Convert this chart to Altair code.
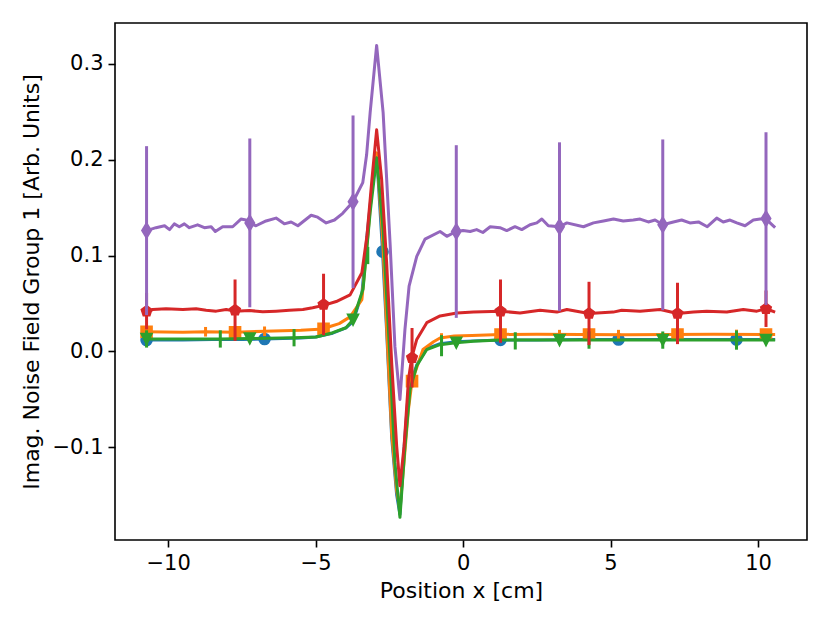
import altair as alt
import pandas as pd

# ---------------- data ----------------
blue_x = [-10.73, -9.5, -8.5, -7.5, -6.73, -5.5, -5.0, -4.42, -3.97, -3.73, -3.43, -3.26, -3.09, -2.93,
          -2.73, -2.59, -2.42, -2.25, -2.14, -2.0, -1.85, -1.57, -1.23, -0.78, -0.24, 0.35, 1.27, 2.5,
          4.0, 5.27, 6.5, 8.0, 9.27, 10.58]
blue_y = [0.012, 0.012, 0.0125, 0.0125, 0.013, 0.014, 0.015, 0.019, 0.0245, 0.031, 0.06, 0.12, 0.17, 0.205,
          0.104, 0.02, -0.09, -0.15, -0.17, -0.10, -0.040, -0.014, 0.003, 0.008, 0.010, 0.011, 0.012, 0.012,
          0.0125, 0.0125, 0.0125, 0.0125, 0.0125, 0.0125]

orange_x = [-10.73, -9.5, -8.73, -7.73, -6.73, -5.5, -4.73, -4.51, -4.2, -3.83, -3.43, -3.26, -3.09, -2.93,
            -2.73, -2.59, -2.42, -2.25, -2.14, -2.0, -1.85, -1.73, -1.36, -1.0, -0.78, -0.3, 0.3, 1.27, 2.5,
            4.0, 5.5, 7.0, 8.5, 10.27, 10.58]
orange_y = [0.0205, 0.020, 0.0205, 0.020, 0.021, 0.022, 0.0235, 0.026, 0.029, 0.036, 0.054, 0.11, 0.17, 0.207,
            0.12, 0.025, -0.085, -0.145, -0.165, -0.115, -0.06, -0.031, 0.002, 0.010, 0.014, 0.016, 0.0165,
            0.0177, 0.018, 0.0177, 0.0175, 0.0177, 0.018, 0.0177, 0.0177]

green_x = [-10.73, -9.5, -8.23, -7.23, -5.73, -4.98, -4.42, -3.97, -3.73, -3.39, -3.15, -2.93, -2.71, -2.47,
           -2.31, -2.14, -1.97, -1.80, -1.57, -1.23, -0.78, -0.24, 0.35, 1.25, 2.5, 4.0, 5.5, 7.0, 8.5, 10.27,
           10.58]
green_y = [0.013, 0.013, 0.013, 0.0135, 0.0143, 0.015, 0.0195, 0.0247, 0.033, 0.065, 0.145, 0.202, 0.127,
           -0.012, -0.116, -0.173, -0.099, -0.040, -0.015, 0.002, 0.007, 0.009, 0.0107, 0.0118, 0.0118, 0.0118,
           0.0118, 0.0118, 0.0118, 0.0118, 0.0118]

red_x = [-10.73, -10.52, -10.07, -9.5, -9.05, -8.71, -8.37, -8.03, -7.73, -7.24, -6.79, -6.34, -5.89, -5.43,
         -5.1, -4.73, -4.3, -3.83, -3.43, -3.26, -3.09, -2.93, -2.76, -2.59, -2.42, -2.25, -2.14, -2.0, -1.85,
         -1.74, -1.57, -1.23, -0.78, -0.21, 0.35, 1.27, 1.93, 2.61, 3.18, 3.52, 4.27, 5.09, 5.38, 6.0, 6.68,
         7.27, 7.81, 8.26, 8.94, 9.5, 9.96, 10.27, 10.58]
red_y = [0.041, 0.0437, 0.0445, 0.0437, 0.0445, 0.043, 0.042, 0.0437, 0.042, 0.0427, 0.0413, 0.042, 0.043,
         0.0437, 0.0455, 0.048, 0.052, 0.059, 0.082, 0.12, 0.179, 0.231, 0.179, 0.092, -0.012, -0.099, -0.140,
         -0.099, -0.029, -0.0065, 0.0125, 0.030, 0.037, 0.040, 0.041, 0.042, 0.040, 0.043, 0.041, 0.0437,
         0.0396, 0.041, 0.043, 0.042, 0.0437, 0.0396, 0.041, 0.042, 0.041, 0.0437, 0.042, 0.0445, 0.041]

purple_x = [-10.73, -10.41, -10.12, -9.95, -9.79, -9.62, -9.45, -9.28, -9.0, -8.77,
            -8.54, -8.4, -8.15, -7.81, -7.53, -7.36, -7.23, -7.02, -6.68, -6.34,
            -6.06, -5.83, -5.6, -5.15, -4.93, -4.64, -4.36, -4.08, -3.73, -3.4,
            -3.27, -3.15, -2.93, -2.71, -2.47, -2.31, -2.14, -1.97, -1.83, -1.57,
            -1.29, -0.78, -0.55, -0.24, 0.0, 0.24, 0.46, 0.67, 0.92, 1.25,
            1.48, 1.76, 1.99, 2.27, 2.5, 2.67, 2.89, 3.27, 3.52, 4.08,
            4.42, 4.76, 5.1, 5.43, 5.77, 6.0, 6.28, 6.51, 6.77, 7.13,
            7.41, 7.69, 7.98, 8.28, 8.6, 8.82, 9.05, 9.28, 9.56, 9.84,
            10.07, 10.27, 10.58]
purple_y = [0.126, 0.129, 0.131, 0.127, 0.133, 0.130, 0.133, 0.129, 0.132, 0.129,
            0.130, 0.125, 0.130, 0.130, 0.138, 0.137, 0.134, 0.131, 0.136, 0.139,
            0.133, 0.135, 0.131, 0.142, 0.140, 0.134, 0.137, 0.144, 0.156, 0.176,
            0.205, 0.249, 0.319, 0.249, 0.110, 0.005, -0.050, 0.023, 0.068, 0.099,
            0.117, 0.125, 0.120, 0.125, 0.126, 0.125, 0.127, 0.124, 0.130, 0.129,
            0.126, 0.130, 0.127, 0.132, 0.134, 0.138, 0.131, 0.130, 0.134, 0.130,
            0.134, 0.136, 0.138, 0.136, 0.137, 0.138, 0.135, 0.137, 0.132, 0.135,
            0.137, 0.134, 0.135, 0.130, 0.139, 0.135, 0.137, 0.134, 0.131, 0.137,
            0.138, 0.138, 0.129]

# markers
blue_mx = [-10.73, -6.73, -2.73, 1.27, 5.27, 9.27]
blue_my = [0.0118, 0.013, 0.104, 0.012, 0.0125, 0.0125]
orange_mx = [-10.73, -7.73, -4.73, -1.73, 1.27, 4.27, 7.27, 10.27]
orange_my = [0.0205, 0.020, 0.0235, -0.031, 0.0177, 0.0177, 0.0177, 0.0177]
green_mx = [-10.73, -7.23, -3.73, -0.23, 3.27, 6.77, 10.27]
green_my = [0.013, 0.0135, 0.033, 0.009, 0.0118, 0.0118, 0.0118]
red_mx = [-10.73, -7.73, -4.73, -1.73, 1.27, 4.27, 7.27, 10.27]
red_my = [0.042, 0.043, 0.049, -0.0066, 0.042, 0.0396, 0.0396, 0.0445]
purple_mx = [-10.73, -7.23, -3.73, -0.23, 3.27, 6.77, 10.27]
purple_my = [0.126, 0.134, 0.156, 0.125, 0.130, 0.132, 0.1385]

# error bars
orange_ex = [-10.73, -8.73, -6.73, -4.73, -2.73, -0.73, 1.27, 3.27, 5.27, 7.27, 9.27]
orange_ey = [0.0205, 0.0205, 0.021, 0.0235, 0.12, 0.014, 0.0177, 0.0175, 0.0175, 0.0177, 0.0177]
orange_ee = [0.005, 0.005, 0.005, 0.005, 0.005, 0.005, 0.005, 0.005, 0.005, 0.005, 0.005]
green_ex = [-10.73, -8.23, -5.73, -3.23, -0.73, 1.77, 4.27, 6.77, 9.27]
green_ey = [0.013, 0.013, 0.0143, 0.10, 0.006, 0.011, 0.0118, 0.0118, 0.0118]
green_ee = [0.009, 0.009, 0.009, 0.009, 0.011, 0.009, 0.009, 0.009, 0.010]
red_ex = red_mx
red_ey = red_my
red_ee = [0.019, 0.032, 0.032, 0.031, 0.033, 0.033, 0.032, 0.019]
purple_ex = purple_mx
purple_ey = purple_my
purple_ee = [0.088, 0.088, 0.090, 0.090, 0.088, 0.089, 0.090]

x_ticks = [-10, -5, 0, 5, 10]
y_ticks = [-0.1, 0.0, 0.1, 0.2, 0.3]

# ---------------- styling ----------------
PENTAGON = "M0,-1L0.951,-0.309L0.588,0.809L-0.588,0.809L-0.951,-0.309Z"
DIAMOND = "M0,-1.41L0.85,0L0,1.41L-0.85,0Z"
TRI_DOWN = "M-1,-1L1,-1L0,1Z"

series = [
    ("#1f77b4", blue_x, blue_y, blue_mx, blue_my, None, None, None, "circle"),
    ("#ff7f0e", orange_x, orange_y, orange_mx, orange_my, orange_ex, orange_ey, orange_ee, "square"),
    ("#2ca02c", green_x, green_y, green_mx, green_my, green_ex, green_ey, green_ee, TRI_DOWN),
    ("#d62728", red_x, red_y, red_mx, red_my, red_ex, red_ey, red_ee, PENTAGON),
    ("#9467bd", purple_x, purple_y, purple_mx, purple_my, purple_ex, purple_ey, purple_ee, DIAMOND),
]

FONT = "DejaVu Sans"
MINUS = "replace(datum.label, '-', '\u2212')"

xs = alt.Scale(domain=[-11.8, 11.66], nice=False, zero=False)
ys = alt.Scale(domain=[-0.1966, 0.3424], nice=False, zero=False)

x_enc = alt.X("x:Q", scale=xs, axis=alt.Axis(values=x_ticks, format="d", labelExpr=MINUS,
                                             title="Position x [cm]"))
y_enc = alt.Y("y:Q", scale=ys, axis=alt.Axis(values=y_ticks, format=".1f", labelExpr=MINUS,
                                             title="Imag. Noise Field Group 1 [Arb. Units]"))

LW = 3.0
layers = []
for color, lx, ly, mx, my, ex, ey, ee, shape in series:
    assert len(lx) == len(ly) and len(mx) == len(my)
    ldf = pd.DataFrame({"x": lx, "y": ly})
    layers.append(
        alt.Chart(ldf).mark_line(color=color, strokeWidth=LW, strokeJoin="round")
        .encode(x=x_enc, y=y_enc)
    )
    if ex is not None:
        assert len(ex) == len(ey) == len(ee)
        edf = pd.DataFrame({"x": ex, "y": [a - b for a, b in zip(ey, ee)],
                            "y2": [a + b for a, b in zip(ey, ee)]})
        layers.append(
            alt.Chart(edf).mark_rule(color=color, strokeWidth=LW)
            .encode(x=x_enc, y=y_enc, y2="y2:Q")
        )
    mdf = pd.DataFrame({"x": mx, "y": my})
    layers.append(
        alt.Chart(mdf).mark_point(filled=True, shape=shape, size=121, fill=color, stroke=color,
                                  strokeWidth=1.6, opacity=1)
        .encode(x=x_enc, y=y_enc)
    )

chart = alt.layer(*layers).properties(
    width=692, height=517,
    autosize=alt.AutoSizeParams(type="none"),
    padding={"left": 107, "top": 15, "right": 15, "bottom": 75},
    background="white",
).configure_view(
    stroke="black", strokeWidth=1.6
).configure_axis(
    grid=False, domain=False,
    tickSize=7, tickWidth=1.6, tickColor="black",
    labelFont=FONT, labelFontSize=21, labelColor="black",
    titleFont=FONT, titleFontSize=22, titleFontWeight="normal", titleColor="black",
).configure_axisX(
    labelPadding=5, titlePadding=7,
).configure_axisY(
    labelPadding=5, titlePadding=9,
)

chart.save("out.html", embed_options={"renderer": "svg", "actions": False})
